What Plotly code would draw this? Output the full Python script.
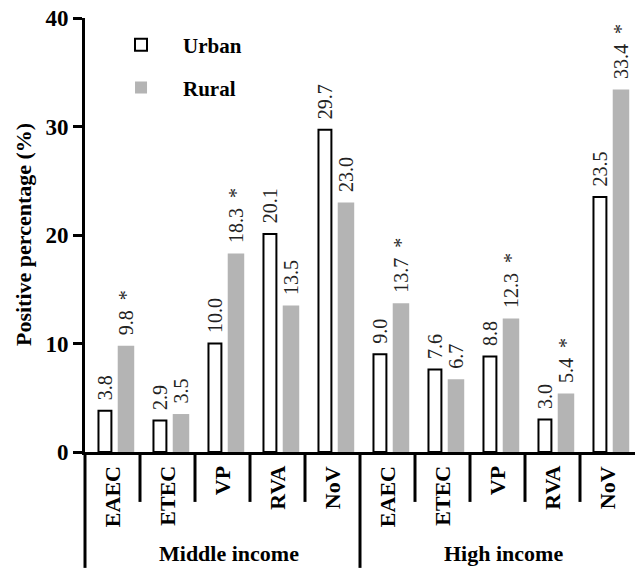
import plotly.graph_objects as go

# ---- data ----
categories = ["EAEC", "ETEC", "VP", "RVA", "NoV", "EAEC", "ETEC", "VP", "RVA", "NoV"]
groups = ["Middle income", "High income"]
urban = [3.8, 2.9, 10.0, 20.1, 29.7, 9.0, 7.6, 8.8, 3.0, 23.5]
rural = [9.8, 3.5, 18.3, 13.5, 23.0, 13.7, 6.7, 12.3, 5.4, 33.4]
rural_sig = [True, False, True, False, False, True, False, True, True, True]
y_ticks = [0, 10, 20, 30, 40]

FONT = "Liberation Serif"
GRAY = "#b4b4b4"

U_OFF, U_W = -0.255, 0.235
R_OFF, R_W = 0.095, 0.30

xs = list(range(len(categories)))
urban_text = [f"{v:.1f}" for v in urban]
rural_text = [f"{v:.1f}" + (" \u00a0*" if s else "") for v, s in zip(rural, rural_sig)]

fig = go.Figure()
fig.add_trace(go.Bar(
    x=xs, y=urban, name="<b>Urban</b>", width=U_W, offset=U_OFF,
    marker=dict(color="white", line=dict(color="black", width=2)),
    cliponaxis=False, legendgroup="u",
))
fig.add_trace(go.Bar(
    x=xs, y=rural, name="<b>Rural</b>", width=R_W, offset=R_OFF,
    marker=dict(color=GRAY, line=dict(width=0)),
    cliponaxis=False, legendgroup="r",
))

annotations = []
# value labels above the bars
valfont = dict(family=FONT, size=20, color="#222")
for i in xs:
    annotations.append(dict(x=i + U_OFF + U_W / 2, y=urban[i], xref="x", yref="y",
                            text=urban_text[i], textangle=-90, showarrow=False,
                            xanchor="center", yanchor="bottom", yshift=9, font=valfont))
    annotations.append(dict(x=i + R_OFF + R_W / 2, y=rural[i], xref="x", yref="y",
                            text=rural_text[i], textangle=-90, showarrow=False,
                            xanchor="center", yanchor="bottom", yshift=9, font=valfont))

shapes = []
# short dividers between categories
for b in [0.5, 1.5, 2.5, 3.5, 5.5, 6.5, 7.5, 8.5]:
    shapes.append(dict(type="line", xref="x", yref="paper", x0=b, x1=b,
                       y0=0, y1=-0.115, line=dict(color="black", width=3)))
# long group dividers
shapes.append(dict(type="line", xref="x", yref="paper", x0=4.5, x1=4.5,
                   y0=0, y1=-0.267, line=dict(color="black", width=3)))
shapes.append(dict(type="line", xref="paper", yref="paper", x0=0, x1=0,
                   y0=0, y1=-0.267, line=dict(color="black", width=3)))

for i, c in enumerate(categories):
    annotations.append(dict(x=i, y=-0.028, xref="x", yref="paper", text=f"<b>{c}</b>",
                            textangle=-90, showarrow=False, yanchor="top", xanchor="center",
                            font=dict(family=FONT, size=22, color="black")))
for gi, g in enumerate(groups):
    annotations.append(dict(x=2 + 5 * gi, y=-0.233, xref="x", yref="paper", text=f"<b>{g}</b>",
                            showarrow=False, yanchor="middle", xanchor="center", xshift=6,
                            font=dict(family=FONT, size=22, color="black")))
# y-axis title
annotations.append(dict(x=-0.1127, y=0.5, xref="paper", yref="paper",
                        text="<b>Positive percentage (%)</b>", textangle=-90, showarrow=False,
                        xanchor="center", yanchor="middle",
                        font=dict(family=FONT, size=22, color="black")))

fig.update_layout(
    width=637, height=570,
    font=dict(family=FONT, color="black"),
    margin=dict(l=85, r=2, t=18, b=118),
    plot_bgcolor="white", paper_bgcolor="white",
    barmode="overlay",
    showlegend=True,
    legend=dict(x=0.0255, y=0.985, xanchor="left", yanchor="top",
                font=dict(family=FONT, size=21, color="black"),
                itemwidth=74, traceorder="grouped", tracegroupgap=12.5,
                bgcolor="rgba(0,0,0,0)"),
    shapes=shapes, annotations=annotations,
    xaxis=dict(range=[-0.5, 9.5], showline=True, linewidth=3, linecolor="black",
               showticklabels=False, ticks="", showgrid=False, zeroline=False,
               fixedrange=True, automargin=False),
    yaxis=dict(range=[0, 40], tickvals=y_ticks, ticktext=[f"<b>{t}</b>" for t in y_ticks],
               ticks="outside", ticklen=9, tickwidth=3, tickcolor="black",
               showline=True, linewidth=3, linecolor="black", showgrid=False, zeroline=False,
               automargin=False,
               tickfont=dict(family=FONT, size=23, color="black")),
)

fig.write_html("out.html", config={"displayModeBar": False},
               post_script="document.body.style.margin='0';document.body.style.padding='0';")
